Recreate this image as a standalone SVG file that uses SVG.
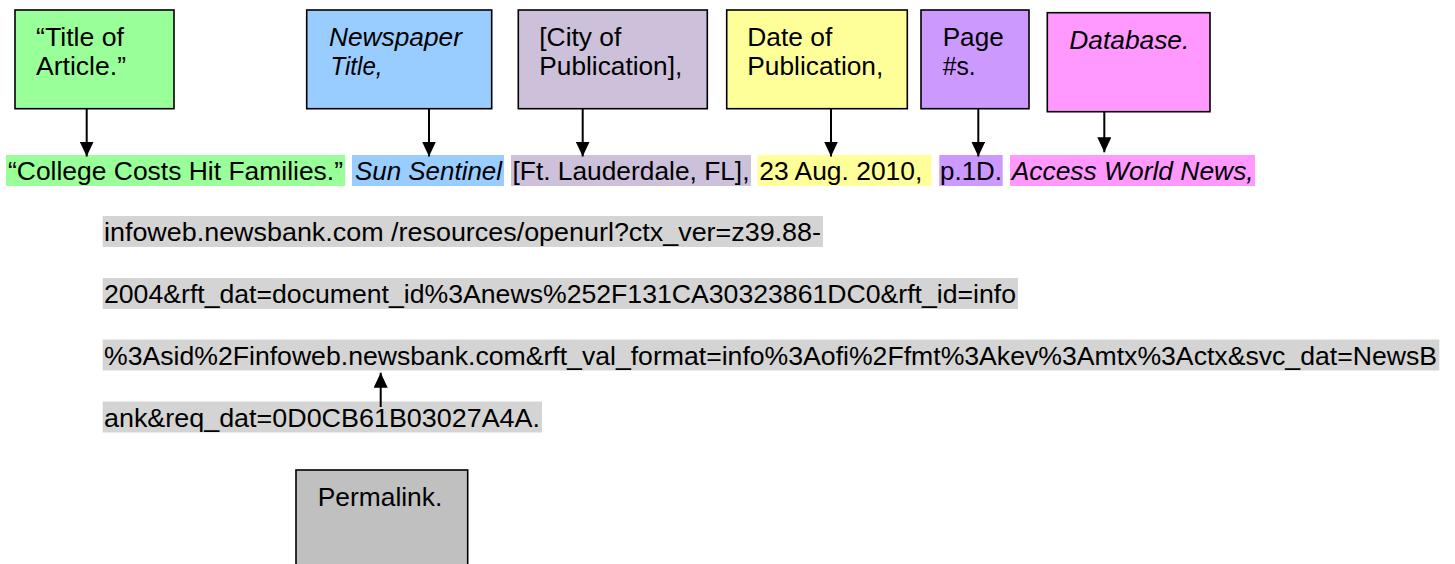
<svg xmlns="http://www.w3.org/2000/svg" width="1455" height="564" viewBox="0 0 1455 564">
<style>
.box{stroke:#000;stroke-width:1.6}
.t{font-family:"Liberation Sans",Arial,sans-serif;font-size:25px;fill:#000}
.i{font-style:italic}
.conn line{stroke:#000;stroke-width:2}
.hl-url{fill:#D4D4D4}
</style>
<defs>
<marker id="ah" markerUnits="userSpaceOnUse" markerWidth="15" markerHeight="14" refX="15" refY="7" orient="auto">
<path d="M0,0 L15,7 L0,14 z" fill="#000"/>
</marker>
</defs>
<rect width="1455" height="564" fill="#fff"/>

<g id="citation">
<rect x="6" y="155" width="339" height="31" fill="#99FF99"/>
<rect x="352" y="155" width="152" height="31" fill="#99CCFF"/>
<rect x="511" y="155" width="240" height="31" fill="#CCC0DA"/>
<rect x="757.5" y="155" width="174" height="31" fill="#FFFF99"/>
<rect x="939.3" y="155" width="63.4" height="31" fill="#CC99FF"/>
<rect x="1010" y="155" width="245" height="31" fill="#FF99FF"/>
<text class="t" x="8" y="179.5" textLength="335" lengthAdjust="spacingAndGlyphs">“College Costs Hit Families.”</text>
<text class="t i" x="355" y="179.5" textLength="147" lengthAdjust="spacingAndGlyphs">Sun Sentinel</text>
<text class="t" x="512.5" y="179.5" textLength="237" lengthAdjust="spacingAndGlyphs">[Ft. Lauderdale, FL],</text>
<text class="t" x="759.3" y="179.5" textLength="163" lengthAdjust="spacingAndGlyphs">23 Aug. 2010,</text>
<text class="t" x="940" y="179.5" textLength="62" lengthAdjust="spacingAndGlyphs">p.1D.</text>
<text class="t i" x="1011.7" y="179.5" textLength="242" lengthAdjust="spacingAndGlyphs">Access World News,</text>
</g>

<g id="url">
<rect class="hl-url" x="102.7" y="216" width="720.3" height="31"/>
<rect class="hl-url" x="102.7" y="278" width="915.3" height="31"/>
<rect class="hl-url" x="102.7" y="339.5" width="1336.6" height="31"/>
<rect class="hl-url" x="102.7" y="401.5" width="439.3" height="31"/>
<text class="t" x="104" y="241" textLength="717" lengthAdjust="spacingAndGlyphs">infoweb.newsbank.com /resources/openurl?ctx_ver=z39.88-</text>
<text class="t" x="104" y="303" textLength="912" lengthAdjust="spacingAndGlyphs">2004&amp;rft_dat=document_id%3Anews%252F131CA30323861DC0&amp;rft_id=info</text>
<text class="t" x="104" y="364.5" textLength="1333" lengthAdjust="spacingAndGlyphs">%3Asid%2Finfoweb.newsbank.com&amp;rft_val_format=info%3Aofi%2Ffmt%3Akev%3Amtx%3Actx&amp;svc_dat=NewsB</text>
<text class="t" x="104" y="426.5" textLength="436" lengthAdjust="spacingAndGlyphs">ank&amp;req_dat=0D0CB61B03027A4A.</text>
</g>

<g id="node-title">
<rect class="box" x="15" y="10" width="159" height="98.7" fill="#99FF99"/>
<text class="t" x="36" y="46" textLength="88" lengthAdjust="spacingAndGlyphs">“Title of</text>
<text class="t" x="36" y="75" textLength="90" lengthAdjust="spacingAndGlyphs">Article.”</text>
</g>
<g id="node-newspaper">
<rect class="box" x="306.7" y="10" width="185" height="98.7" fill="#99CCFF"/>
<text class="t i" x="329" y="46" textLength="133" lengthAdjust="spacingAndGlyphs">Newspaper</text>
<text class="t i" x="330.5" y="75" textLength="52" lengthAdjust="spacingAndGlyphs">Title,</text>
</g>
<g id="node-city">
<rect class="box" x="518.3" y="10" width="189" height="98.7" fill="#CCC0DA"/>
<text class="t" x="539.3" y="46" textLength="82" lengthAdjust="spacingAndGlyphs">[City of</text>
<text class="t" x="539.3" y="75" textLength="143" lengthAdjust="spacingAndGlyphs">Publication],</text>
</g>
<g id="node-date">
<rect class="box" x="726.7" y="10" width="180.6" height="98.7" fill="#FFFF99"/>
<text class="t" x="747.3" y="46" textLength="85" lengthAdjust="spacingAndGlyphs">Date of</text>
<text class="t" x="747.3" y="75" textLength="136" lengthAdjust="spacingAndGlyphs">Publication,</text>
</g>
<g id="node-page">
<rect class="box" x="921" y="10" width="108" height="98.7" fill="#CC99FF"/>
<text class="t" x="942.7" y="46" textLength="61" lengthAdjust="spacingAndGlyphs">Page</text>
<text class="t" x="942.7" y="75" textLength="33" lengthAdjust="spacingAndGlyphs">#s.</text>
</g>
<g id="node-database">
<rect class="box" x="1047.3" y="12.7" width="162.7" height="99" fill="#FF99FF"/>
<text class="t i" x="1069.3" y="48.5" textLength="120" lengthAdjust="spacingAndGlyphs">Database.</text>
</g>
<g id="node-permalink">
<rect class="box" x="296" y="470" width="171.7" height="110" fill="#C0C0C0"/>
<text class="t" x="317.7" y="505.7" textLength="124.6" lengthAdjust="spacingAndGlyphs">Permalink.</text>
</g>

<g id="connectors" class="conn">
<line x1="86.7" y1="108.7" x2="86.7" y2="156.5" marker-end="url(#ah)"/>
<line x1="429" y1="108.7" x2="429" y2="156.5" marker-end="url(#ah)"/>
<line x1="582.7" y1="108.7" x2="582.7" y2="156.5" marker-end="url(#ah)"/>
<line x1="831" y1="108.7" x2="831" y2="156.5" marker-end="url(#ah)"/>
<line x1="978.3" y1="108.7" x2="978.3" y2="156.5" marker-end="url(#ah)"/>
<line x1="1104.3" y1="111.7" x2="1104.3" y2="152.3" marker-end="url(#ah)"/>
<line x1="380.7" y1="407" x2="380.7" y2="372.7" marker-end="url(#ah)"/>
</g>
</svg>
